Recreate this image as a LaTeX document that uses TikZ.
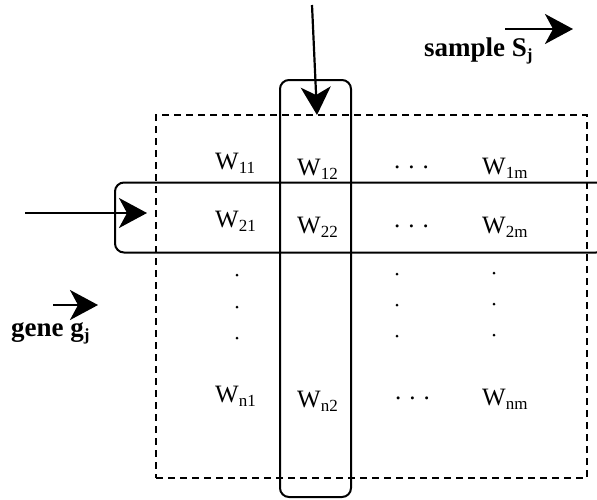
\documentclass[tikz,border=0pt]{standalone}
\usepackage{fontspec}
\setmainfont{Liberation Serif}
\usetikzlibrary{arrows.meta}
\newcommand\wsubtext[1]{W\raisebox{-4pt}{\fontsize{17}{17}\selectfont #1}}
\newcommand\bsubtext[1]{\raisebox{-4pt}{\fontsize{17}{17}\selectfont\bfseries #1}}
\tikzset{
  wnode/.style={inner sep=0pt, anchor=base west, font=\fontsize{25}{25}\selectfont},
  lblnode/.style={inner sep=0pt, anchor=base west, font=\fontsize{27}{27}\selectfont\bfseries},
  vdot/.style={circle, fill=black, inner sep=0pt, minimum size=3pt},
  solidbox/.style={draw=black, line width=2pt, rounded corners=9pt, inner sep=0pt},
  dashbox/.style={draw=black, line width=1.8pt, dash pattern=on 7pt off 5pt, inner sep=0pt},
  arr/.style={line width=2.2pt, -{Stealth[length=28pt,width=30pt,inset=8pt]}}
}
\begin{document}
\begin{tikzpicture}[x=1pt,y=-1pt]
\clip (0,0) rectangle (597,499);
% boxes
\node[dashbox, minimum width=431pt, minimum height=363pt] (mat) at (371.5,296.5) {};
\node[solidbox, minimum width=71pt, minimum height=417pt] (col) at (315.5,288.5) {};
\node[solidbox, minimum width=490pt, minimum height=70pt] (row) at (360,217.5) {};
% entries
\node[wnode] (w11) at (215,169) {\wsubtext{11}};
\node[wnode] (w12) at (297,175) {\wsubtext{12}};
\node[wnode] (d1) at (394,168) {.\hspace{8pt}.\hspace{8pt}.};
\node[wnode] (w1m) at (482,174) {\wsubtext{1m}};
\node[wnode] (w21) at (215,227) {\wsubtext{21}};
\node[wnode] (w22) at (297,233) {\wsubtext{22}};
\node[wnode] (d2) at (394,227) {.\hspace{8pt}.\hspace{8pt}.};
\node[wnode] (w2m) at (482,233) {\wsubtext{2m}};
\node[wnode] (wn1) at (215,402) {\wsubtext{n1}};
\node[wnode] (wn2) at (297,407) {\wsubtext{n2}};
\node[wnode] (dn) at (395,399) {.\hspace{8pt}.\hspace{8pt}.};
\node[wnode] (wnm) at (482,405) {\wsubtext{nm}};
% vertical dots
\node[vdot] (a1) at (237,275) {};
\node[vdot] (a2) at (237,307) {};
\node[vdot] (a3) at (237,338) {};
\node[vdot] (b1) at (397,274) {};
\node[vdot] (b2) at (397,305) {};
\node[vdot] (b3) at (397,336) {};
\node[vdot] (c1) at (494,273) {};
\node[vdot] (c2) at (494,304) {};
\node[vdot] (c3) at (494,335) {};
% labels
\node[lblnode] (sample) at (424,56) {sample S\bsubtext{j}};
\node[lblnode] (gene) at (11,336) {gene g\bsubtext{j}};
% arrows
\coordinate (vs) at (312,5);
\coordinate (vt) at (317,115);
\draw[arr] (vs) -- (vt);
\coordinate (hs) at (25,213);
\coordinate (ht) at (147,213);
\draw[arr] (hs) -- (ht);
\coordinate (ss) at (505,29);
\coordinate (st) at (573,29);
\draw[arr] (ss) -- (st);
\coordinate (gs) at (53,305);
\coordinate (gt) at (98,305);
\draw[arr] (gs) -- (gt);
\end{tikzpicture}
\end{document}
